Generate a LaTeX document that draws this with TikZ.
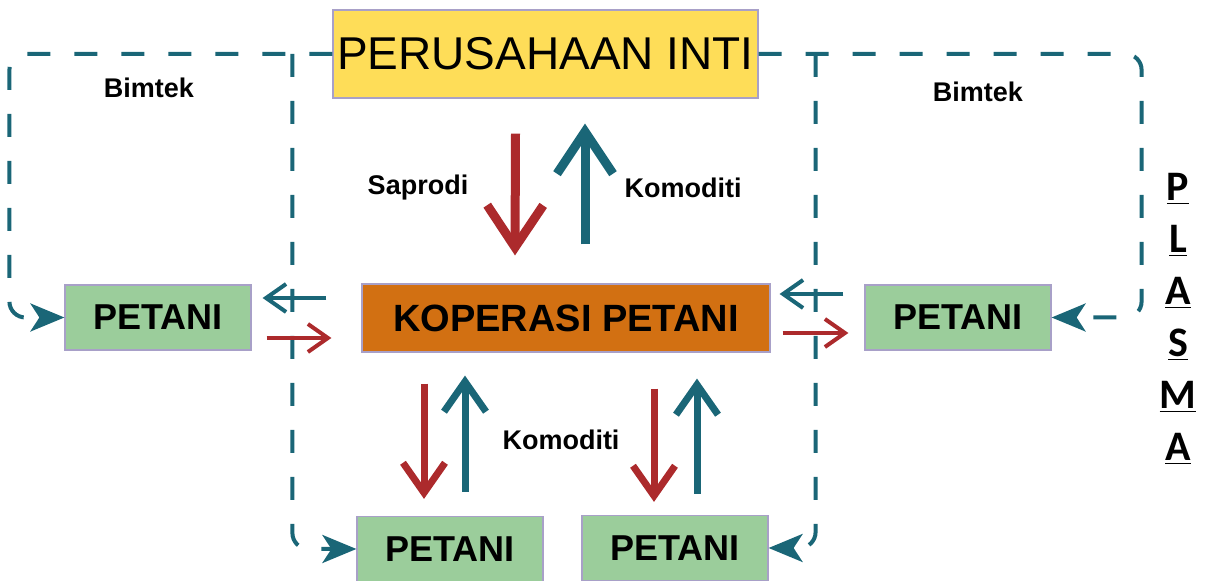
\documentclass[tikz,border=0pt]{standalone}
\usepackage{fontspec}
\setmainfont{Liberation Sans}
\newfontfamily\plasmafont{Carlito}
\usetikzlibrary{arrows.meta}

\definecolor{kuning}{RGB}{254,221,88}
\definecolor{oranye}{RGB}{210,112,18}
\definecolor{hijau}{RGB}{155,205,155}
\definecolor{bingkai}{RGB}{168,160,200}
\definecolor{merah}{RGB}{172,42,44}
\definecolor{biru}{RGB}{26,102,119}

\begin{document}
\begin{tikzpicture}[x=0.5pt,y=-0.5pt,
  box/.style={draw=bingkai,line width=.6pt,inner sep=0},
  tani/.style={box,fill=hijau,minimum width=93pt,minimum height=32.5pt,font=\bfseries\fontsize{18}{20}\selectfont},
  lab/.style={font=\bfseries\fontsize{13.5}{15}\selectfont},
  bim/.style={draw=biru,line width=2pt,dash pattern=on 11.5pt off 12pt,rounded corners=8pt,
    -{Stealth[length=17pt,width=14pt,inset=4.5pt]}},
  big/.style={line width=4.5pt,-{Straight Barb[length=21pt,width=28pt]}},
  mid/.style={line width=3.5pt,-{Straight Barb[length=15pt,width=21pt]}},
  sml/.style={line width=2pt,-{Straight Barb[length=10pt,width=14pt]}}]
  \useasboundingbox (0,0) rectangle (1206,581);

  \node[box,fill=kuning,minimum width=212.5pt,minimum height=44pt,
    font=\fontsize{23}{26}\selectfont] (inti) at (545.5,54) {PERUSAHAAN INTI};
  \node[box,fill=oranye,minimum width=204pt,minimum height=34pt,
    font=\bfseries\fontsize{19}{22}\selectfont] (kop) at (566,318) {KOPERASI PETANI};
  \foreach \name/\x/\y in {tl/158/317.5,tr/958/317.5,bl/450/549,br/675/548}
    \node[tani] (\name) at (\x,\y) {PETANI};

  % bimtek lines
  \draw[bim] (inti.west) -| ([shift={(-55,0)}]tl.west) -- (tl.west);
  \draw[bim] (inti.east) -| ([shift={(90,0)}]tr.east) -- (tr.east);
  \draw[bim] ([shift={(-40,0)}]inti.west) |- (bl.west);
  \draw[bim] ([shift={(57,0)}]inti.east) |- (br.east);

  % saprodi / komoditi
  \draw[big,merah] ([shift={(-30,35)}]inti.south) -- ([shift={(-51,-28)}]kop.north);
  \draw[big,biru] ([shift={(19,-39)}]kop.north) -- ([shift={(39.5,25)}]inti.south);

  \draw[sml,biru] ([shift={(-35,-20)}]kop.west) -- ([shift={(11,-19.5)}]tl.east);
  \draw[sml,merah] ([shift={(15,20.5)}]tl.east) -- ([shift={(-30,20)}]kop.west);
  \draw[sml,biru] ([shift={(-21,-23.5)}]tr.west) -- ([shift={(9,-24)}]kop.east);
  \draw[sml,merah] ([shift={(12,15)}]kop.east) -- ([shift={(-16,15.5)}]tr.west);

  \draw[mid,merah] ([shift={(-142,31)}]kop.south) -- ([shift={(-26,-17)}]bl.north);
  \draw[mid,biru] ([shift={(15,-24)}]bl.north) -- ([shift={(-101,23)}]kop.south);
  \draw[mid,merah] ([shift={(88,36)}]kop.south) -- ([shift={(-21,-13)}]br.north);
  \draw[mid,biru] ([shift={(22,-21)}]br.north) -- ([shift={(131,26)}]kop.south);

  \node[lab] (bimL) at (149,88) {Bimtek};
  \node[lab] (bimR) at (978,92) {Bimtek};
  \node[lab] (sap) at (418,188) {Saprodi};
  \node[lab] (komA) at (683,188) {Komoditi};
  \node[lab] (komB) at (561,440) {Komoditi};

  \node[font=\plasmafont\bfseries\fontsize{21}{26}\selectfont,align=center] (plasma) at (1178,319)
    {\underline{P}\\\underline{L}\\\underline{A}\\\underline{S}\\\underline{M}\\\underline{A}};
\end{tikzpicture}
\end{document}
